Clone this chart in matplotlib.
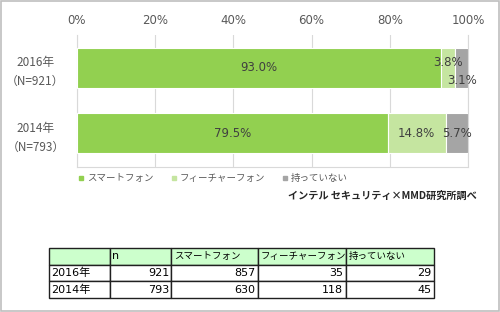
import numpy as np
import matplotlib
matplotlib.use("Agg")
import matplotlib.pyplot as plt
from matplotlib.patches import Rectangle

plt.rcParams['font.family'] = ['DejaVu Sans', 'Noto Sans CJK JP']

# data
years = ["2016年\n（N=921）", "2014年\n（N=793）"]
series = ["スマートフォン", "フィーチャーフォン", "持っていない"]
smart = [93.0, 79.5]
feature = [3.8, 14.8]
none_ = [3.1, 5.7]
colors = ["#92d050", "#c5e5a0", "#a5a5a5"]

tbl_cols = ["", "n", "スマートフォン", "フィーチャーフォン", "持っていない"]
tbl_rows = [["2016年", "921", "857", "35", "29"],
            ["2014年", "793", "630", "118", "45"]]

fig = plt.figure(figsize=(5, 3.12), dpi=100)
fig.patches.append(Rectangle((0.001, 0.002), 0.997, 0.995, transform=fig.transFigure,
                             fill=False, edgecolor="#bfbfbf", lw=1.2))

ax = fig.add_axes([0.154, 0.465, 0.782, 0.423])
y = np.arange(len(years))
h = 0.61
left = np.zeros(len(years))
for vals, col in zip([smart, feature, none_], colors):
    ax.barh(y, vals, left=left, height=h, color=col, edgecolor="white", lw=0.8, zorder=3)
    left = left + np.array(vals)

ax.set_xlim(0, 100)
ax.set_ylim(1.51, -0.50)
ax.set_xticks(np.arange(0, 101, 20))
ax.set_xticklabels([f"{v}%" for v in range(0, 101, 20)])
ax.xaxis.tick_top()
ax.tick_params(axis="x", length=0, pad=6, labelsize=8.5, labelcolor="#595959")
ax.set_yticks(y)
ax.set_yticklabels(years, linespacing=1.55, ma="center", family=["Noto Sans CJK JP"])
ax.tick_params(axis="y", length=0, pad=9, labelsize=8.5, labelcolor="#595959")
ax.grid(axis="x", color="#d9d9d9", lw=0.8, zorder=0)
for s in ax.spines.values():
    s.set_color("#d9d9d9")
    s.set_linewidth(0.8)
ax.spines["top"].set_visible(False)

lc = "#404040"
fs = 8.5
for i in range(len(years)):
    ax.text(smart[i] / 2, y[i], f"{smart[i]:.1f}%", ha="center", va="center",
            fontsize=fs, color=lc, zorder=4)
# 2016 small segments
ax.text(smart[0] + feature[0] / 2, y[0] - 0.08, f"{feature[0]:.1f}%", ha="center",
        va="center", fontsize=fs, color=lc, zorder=4)
ax.text(smart[0] + feature[0] + none_[0] / 2, y[0] + 0.2, f"{none_[0]:.1f}%", ha="center",
        va="center", fontsize=fs, color=lc, zorder=4)
# 2014
ax.text(smart[1] + feature[1] / 2, y[1], f"{feature[1]:.1f}%", ha="center",
        va="center", fontsize=fs, color=lc, zorder=4)
ax.text(smart[1] + feature[1] + none_[1] / 2, y[1], f"{none_[1]:.1f}%", ha="center",
        va="center", fontsize=fs, color=lc, zorder=4)

handles = [plt.Line2D([], [], marker="s", ls="", color=c, markersize=3.5) for c in colors]
leg = ax.legend(handles, series, loc="upper left", bbox_to_anchor=(-0.005, -0.025), ncol=3,
                frameon=False, fontsize=6.8, handlelength=0.5, handletextpad=0.35,
                columnspacing=1.9, borderaxespad=0)
for t in leg.get_texts():
    t.set_color("#595959")

fig.text(0.954, 1 - 196 / 312, "インテル セキュリティ×MMD研究所調べ", ha="right", va="center",
         fontsize=7.3, fontweight="bold", color="#262626", family=["Noto Sans CJK JP"])

# table
tax = fig.add_axes([49 / 500, 1 - 298 / 312, 385 / 500, 50 / 312])
tax.axis("off")
cells = [tbl_cols] + tbl_rows
widths = np.array([61, 61, 87, 88, 88], dtype=float)
widths = widths / widths.sum()
tb = tax.table(cellText=cells, colWidths=widths, bbox=[0, 0, 1, 1])
tb.auto_set_font_size(False)
for (r, c), cell in tb.get_celld().items():
    cell.set_edgecolor("#202020")
    cell.set_linewidth(1.0)
    txt = cell.get_text()
    txt.set_color("#000000")
    cell.PAD = 0.03
    if r == 0:
        cell.set_facecolor("#ccffcc")
        loc = "left"
        txt.set_fontsize(6.8 if c > 1 else 8)
    elif c == 0:
        loc = "left"
        txt.set_fontsize(8)
    else:
        loc = "right"
        txt.set_fontsize(8)
    cell._loc = loc
    txt.set_horizontalalignment(loc)

fig.savefig("out.png", dpi=100)
